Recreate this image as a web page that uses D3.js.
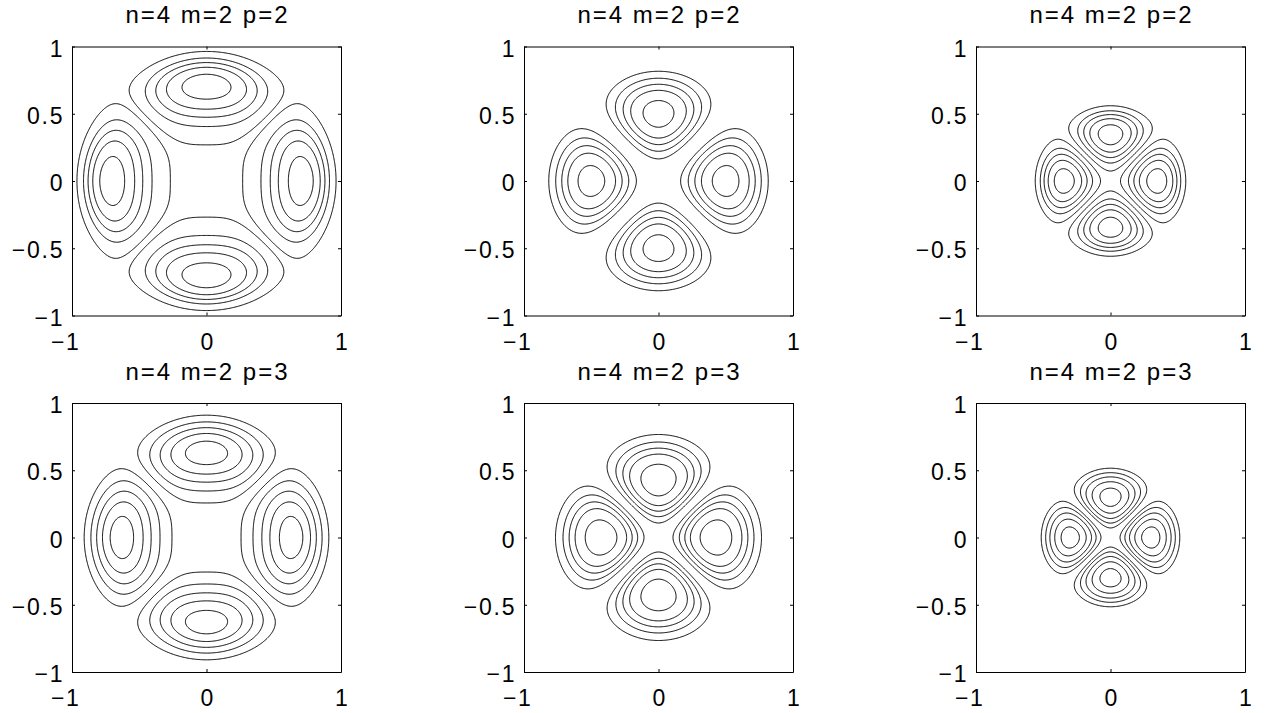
<!DOCTYPE html>
<html><head><meta charset="utf-8">
<script src="https://cdn.jsdelivr.net/npm/d3@7"></script>
<style>
body{margin:0;background:#fff}
svg{display:block}
text{font-family:"Liberation Sans",Arial,Helvetica,sans-serif;fill:#000}
</style>
</head><body>
<svg id="chart" width="1268" height="713"></svg>
<script>
// ---------------- data ----------------
const panelTitles = ["n=4 m=2 p=2","n=4 m=2 p=2","n=4 m=2 p=2","n=4 m=2 p=3","n=4 m=2 p=3","n=4 m=2 p=3"];
const radialPower   = [4, 2, 2, 4, 2, 2];        // power of r near the centre (fitted per panel)
const angularOrder  = [2, 2, 2, 2, 2, 2];        // m : angular frequency
const decayExponent = [2, 3, 2, 3, 4.5, 3];      // exponent of (1 - r^2/R^2) (fitted per panel)
const supportRadius = [1, 1, 0.6, 1, 1, 0.6];    // R (fitted per panel)
// where each contour level crosses the lobe axis: [outer r, inner r]
const crossingsP1 = [[0.968,0.288],[0.914,0.404],[0.876,0.466],[0.838,0.523],[0.776,0.590]];
const crossingsP2 = [[0.819,0.168],[0.765,0.222],[0.715,0.266],[0.665,0.310],[0.590,0.392]];
const crossingsP3 = [[0.560,0.075],[0.528,0.143],[0.498,0.180],[0.466,0.218],[0.4165,0.2675]];
const crossingsP4 = [[0.909,0.256],[0.867,0.359],[0.827,0.428],[0.781,0.482],[0.724,0.552]];
const crossingsP5 = [[0.766,0.108],[0.711,0.156],[0.667,0.198],[0.626,0.243],[0.539,0.304]];
const crossingsP6 = [[0.515,0.071],[0.482,0.107],[0.453,0.144],[0.415,0.181],[0.366,0.230]];
const crossings = [crossingsP1,crossingsP2,crossingsP3,crossingsP4,crossingsP5,crossingsP6];
const xTickValues = [-1,0,1];
const xTickLabels = ["\u22121","0","1"];
const yTickValues = [-1,-0.5,0,0.5,1];
const yTickLabels = ["\u22121","\u22120.5","0","0.5","1"];
const domainX = [-1,1], domainY = [-1,1];

// ---------------- layout ----------------
const colLeft = [72, 524, 976];
const rowTop = [46.5, 403];
const boxW = 269, boxH = 269;
const N = 321;

const svg = d3.select("#chart");

function radial(r, a, b, R){ const t = Math.max(0, 1 - (r*r)/(R*R)); return Math.pow(r, a) * Math.pow(t, b); }

panelTitles.forEach((title, k) => {
  const col = k % 3, row = Math.floor(k / 3);
  const x0 = colLeft[col], y0 = rowTop[row];
  const xs = d3.scaleLinear().domain(domainX).range([x0, x0 + boxW]);
  const ys = d3.scaleLinear().domain(domainY).range([y0 + boxH, y0]);
  const a = radialPower[k], m = angularOrder[k], b = decayExponent[k], R = supportRadius[k];

  const step = (domainX[1]-domainX[0])/(N-1);
  const values = new Float64Array(N*N);
  for (let j = 0; j < N; j++) {
    const y = domainY[0] + j*step;
    for (let i = 0; i < N; i++) {
      const x = domainX[0] + i*step;
      const r = Math.hypot(x, y);
      const th = Math.atan2(y, x);
      values[j*N+i] = radial(r, a, b, R) * Math.abs(Math.cos(m*th));
    }
  }
  const thresholds = crossings[k].map(([ro, ri]) => Math.sqrt(radial(ro,a,b,R)*radial(ri,a,b,R)));

  const contours = d3.contours().size([N, N]).thresholds(thresholds)(values);
  const proj = d3.geoTransform({point: function(px, py){
    this.stream.point(xs(domainX[0] + (px-0.5)*step), ys(domainY[0] + (py-0.5)*step));
  }});
  const path = d3.geoPath(proj);

  const g = svg.append("g");
  g.append("defs").append("clipPath").attr("id","clip"+k)
    .append("rect").attr("x",x0).attr("y",y0).attr("width",boxW).attr("height",boxH);
  g.append("g").attr("clip-path","url(#clip"+k+")")
    .selectAll("path").data(contours).join("path")
    .attr("d", path).attr("fill","none").attr("stroke","#000").attr("stroke-width",1);

  const xFmt = d => xTickLabels[xTickValues.indexOf(d)];
  const yFmt = d => yTickLabels[yTickValues.indexOf(d)];
  const bottom = g.append("g").attr("transform",`translate(0,${y0+boxH})`)
    .call(d3.axisBottom(xs).tickValues(xTickValues).tickFormat(xFmt).tickSizeInner(-3).tickSizeOuter(0).tickPadding(18));
  const top = g.append("g").attr("transform",`translate(0,${y0})`)
    .call(d3.axisTop(xs).tickValues(xTickValues).tickFormat("").tickSizeInner(-3).tickSizeOuter(0));
  const left = g.append("g").attr("transform",`translate(${x0},0)`)
    .call(d3.axisLeft(ys).tickValues(yTickValues).tickFormat(yFmt).tickSizeInner(-3).tickSizeOuter(0).tickPadding(9.5));
  const right = g.append("g").attr("transform",`translate(${x0+boxW},0)`)
    .call(d3.axisRight(ys).tickValues(yTickValues).tickFormat("").tickSizeInner(-3).tickSizeOuter(0));
  [bottom, top, left, right].forEach(ax => {
    ax.select(".domain").attr("stroke","#000").attr("stroke-width",1);
    ax.selectAll(".tick line").attr("stroke","#000").attr("stroke-width",1);
    ax.attr("font-family",null).attr("font-size",null);
  });
  bottom.selectAll(".tick text").attr("font-size","23px").style("letter-spacing","1.8px")
    .attr("text-anchor","end").attr("x", 8.2).attr("dy","0.71em");
  left.selectAll(".tick text").attr("font-size","23px").style("letter-spacing","1.8px")
    .attr("dx", "1.8px").attr("dy","0.42em");

  g.append("text").attr("x", x0 + boxW/2 + 1).attr("y", y0 - 23.5)
    .attr("text-anchor","middle").attr("font-size","24px").style("letter-spacing","2px")
    .text(title);
});
</script>
</body></html>
